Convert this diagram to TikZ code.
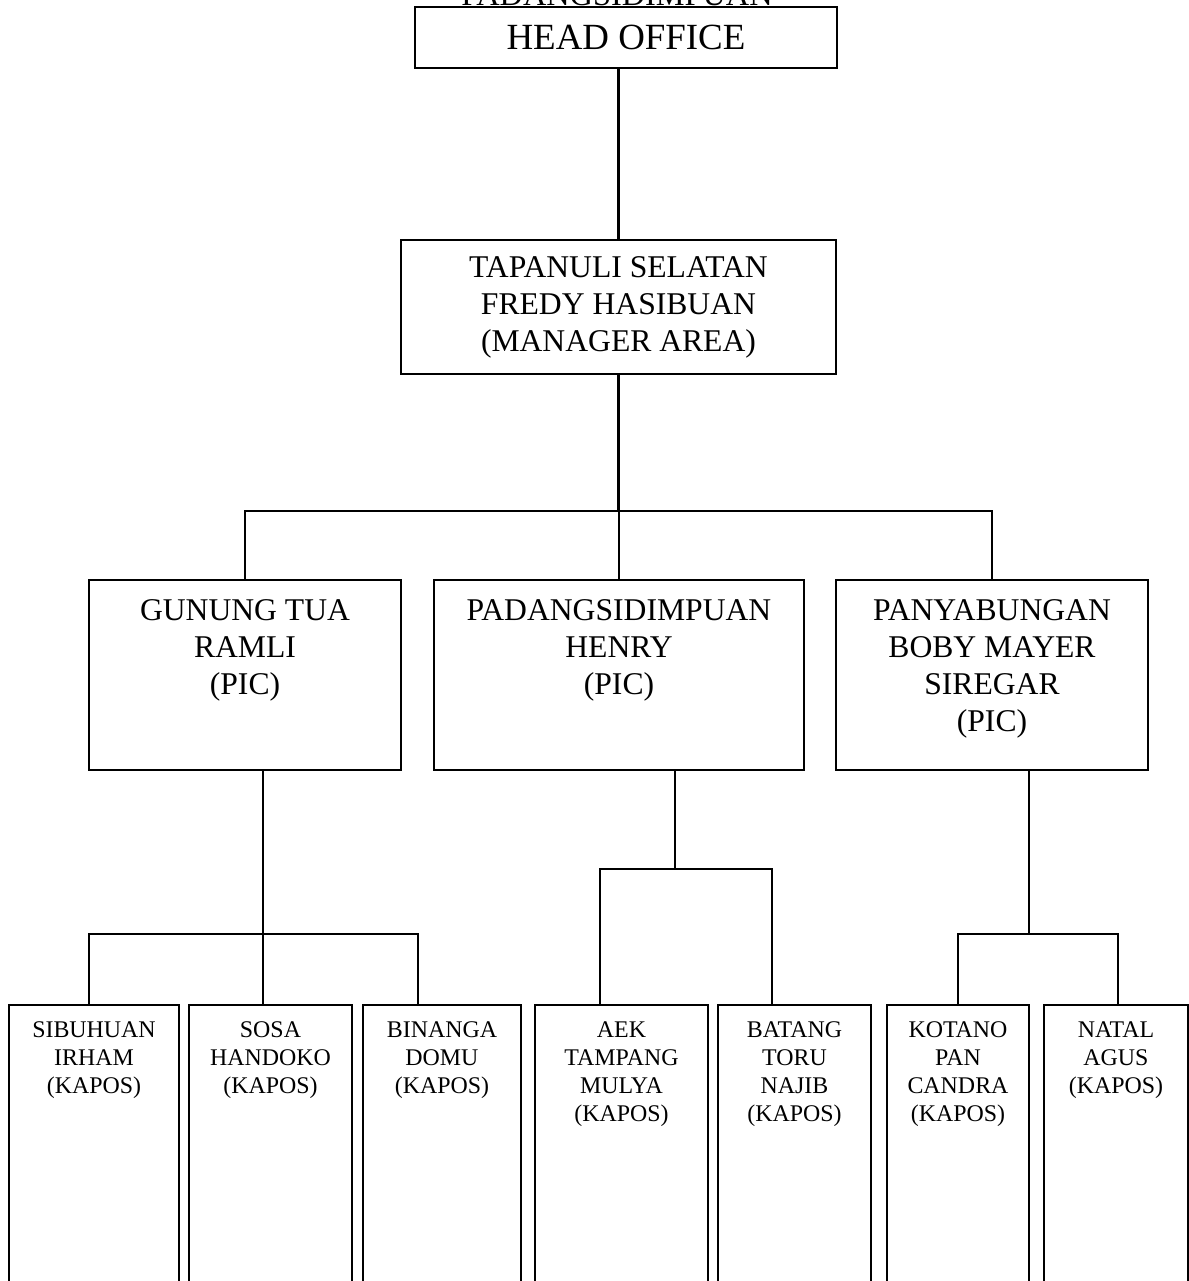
\documentclass[tikz,border=0pt]{standalone}
\usepackage{fontspec}
\setmainfont{Liberation Serif}
\tikzset{
  box/.style={draw, rectangle, line width=0.6pt, inner sep=0pt},
  headbox/.style={box, minimum width=4.22cm, minimum height=0.61cm, font=\fontsize{10.5}{12}\selectfont},
  areabox/.style={box, minimum width=4.35cm, minimum height=1.34cm, align=center, font=\fontsize{9}{10.5}\selectfont},
  picbox/.style={box, minimum height=1.9cm},
  kaposbox/.style={box, minimum height=3.2cm},
  pictext/.style={anchor=north, inner sep=0pt, yshift=-0.2cm, align=center, font=\fontsize{9}{10.5}\selectfont},
  kapostext/.style={anchor=north, inner sep=0pt, yshift=-0.17cm, align=center, font=\fontsize{6.8}{8}\selectfont},
  link/.style={line width=0.6pt}
}
\begin{document}
\begin{tikzpicture}
\useasboundingbox (0,0) rectangle (11.89,-12.81);
\clip (0,0) rectangle (11.89,-12.81);
% top
\node[anchor=base, inner sep=0pt, font=\fontsize{9.2}{11}\selectfont] (kota) at (6.17,-0.05) {PADANGSIDIMPUAN};
\node[headbox] (head) at (6.26,-0.375) {HEAD OFFICE};
\node[areabox] (tapsel) at (6.185,-3.07) {TAPANULI SELATAN\\FREDY HASIBUAN\\(MANAGER AREA)};
% PIC
\node[picbox, minimum width=3.12cm] (gunung) at (2.45,-6.75) {};
\node[picbox, minimum width=3.70cm] (padang) at (6.19,-6.75) {};
\node[picbox, minimum width=3.12cm] (panya) at (9.92,-6.75) {};
\node[pictext] (gunungtxt) at (gunung.north) {GUNUNG TUA\\RAMLI\\(PIC)};
\node[pictext] (padangtxt) at (padang.north) {PADANGSIDIMPUAN\\HENRY\\(PIC)};
\node[pictext] (panyatxt) at (panya.north) {PANYABUNGAN\\BOBY MAYER\\SIREGAR\\(PIC)};
% KAPOS
\node[kaposbox, minimum width=1.70cm] (sibuhuan) at (0.94,-11.65) {};
\node[kaposbox, minimum width=1.63cm] (sosa) at (2.705,-11.65) {};
\node[kaposbox, minimum width=1.58cm] (binanga) at (4.42,-11.65) {};
\node[kaposbox, minimum width=1.73cm] (aek) at (6.215,-11.65) {};
\node[kaposbox, minimum width=1.53cm] (batang) at (7.945,-11.65) {};
\node[kaposbox, minimum width=1.42cm] (kotanopan) at (9.58,-11.65) {};
\node[kaposbox, minimum width=1.44cm] (natal) at (11.16,-11.65) {};
\node[kapostext] (sibuhuantxt) at (sibuhuan.north) {SIBUHUAN\\IRHAM\\(KAPOS)};
\node[kapostext] (sosatxt) at (sosa.north) {SOSA\\HANDOKO\\(KAPOS)};
\node[kapostext] (binangatxt) at (binanga.north) {BINANGA\\DOMU\\(KAPOS)};
\node[kapostext] (aektxt) at (aek.north) {AEK\\TAMPANG\\MULYA\\(KAPOS)};
\node[kapostext] (batangtxt) at (batang.north) {BATANG\\TORU\\NAJIB\\(KAPOS)};
\node[kapostext] (kotanopantxt) at (kotanopan.north) {KOTANO\\PAN\\CANDRA\\(KAPOS)};
\node[kapostext] (nataltxt) at (natal.north) {NATAL\\AGUS\\(KAPOS)};
% lines
\coordinate (bus) at (6.2,-5.11);
\coordinate (gbus) at (2.63,-9.34);
\coordinate (pbus) at (6.75,-8.69);
\draw[link] (tapsel.north) -- (tapsel.north |- head.south);
\draw[link] (tapsel.south) -- (tapsel.south |- bus);
\draw[link] (gunung.north) |- (panya.north |- bus) -- (panya.north);
\draw[link] (padang.north) -- (padang.north |- bus);
\draw[link] ([xshift=0.18cm]gunung.south) -- ([xshift=0.18cm]gunung.south |- sosa.north);
\draw[link] ([xshift=-0.05cm]sibuhuan.north) |- ([xshift=-0.24cm]binanga.north |- gbus) -- ([xshift=-0.24cm]binanga.north);
\draw[link] ([xshift=0.56cm]padang.south) -- ([xshift=0.56cm]padang.south |- pbus);
\draw[link] ([xshift=-0.215cm]aek.north) |- ([xshift=-0.225cm]batang.north |- pbus) -- ([xshift=-0.225cm]batang.north);
\draw[link] ([xshift=0.37cm]panya.south) -- ([xshift=0.37cm]panya.south |- gbus);
\draw[link] (kotanopan.north) |- ([xshift=0.02cm]natal.north |- gbus) -- ([xshift=0.02cm]natal.north);
\end{tikzpicture}
\end{document}
